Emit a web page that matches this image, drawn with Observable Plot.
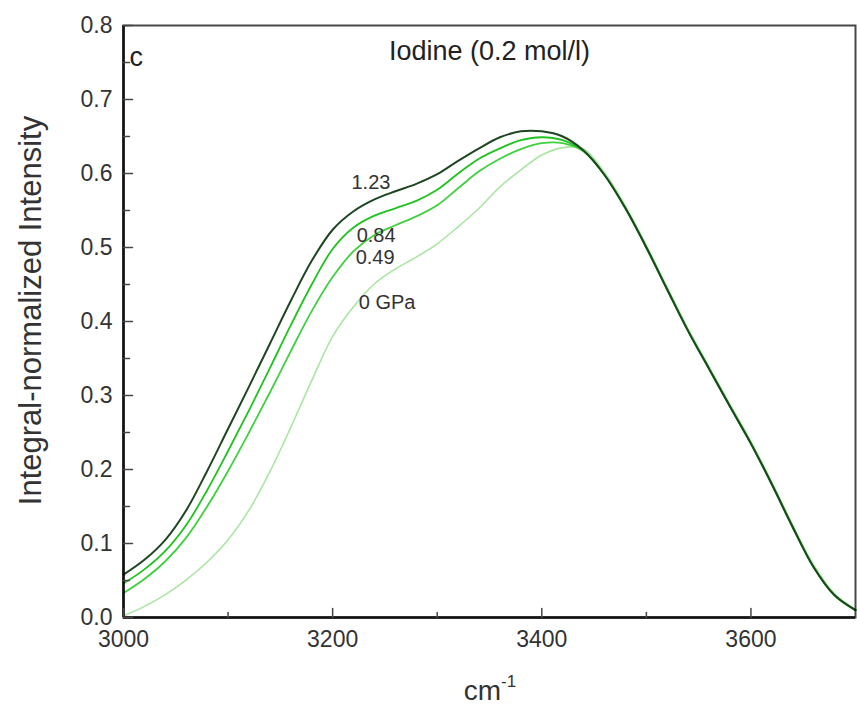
<!DOCTYPE html>
<html><head><meta charset="utf-8">
<script src="https://cdn.jsdelivr.net/npm/d3@7"></script>
<script src="https://cdn.jsdelivr.net/npm/@observablehq/plot@0.6"></script>
<style>
body{margin:0;background:#fff}
svg{font-family:"Liberation Sans",Arial,Helvetica,sans-serif}
</style>
</head><body><div id="chart"></div>
<script>
// Wavenumber grid (cm^-1)
const wavenumbers = [3000,3020,3040,3060,3080,3100,3120,3140,3160,3180,3200,3220,3240,3260,3280,3300,3320,3340,3360,3380,3400,3420,3440,3460,3480,3500,3520,3540,3560,3580,3600,3620,3640,3660,3680,3700];
// Integral-normalized intensity per pressure
const p123 = [0.058,0.078,0.105,0.145,0.198,0.255,0.312,0.370,0.428,0.482,0.524,0.549,0.565,0.576,0.586,0.599,0.617,0.634,0.649,0.657,0.657,0.650,0.631,0.598,0.553,0.500,0.443,0.387,0.336,0.285,0.235,0.180,0.122,0.068,0.030,0.010];
const p084 = [0.046,0.065,0.090,0.125,0.172,0.225,0.280,0.337,0.395,0.450,0.498,0.527,0.543,0.553,0.563,0.578,0.600,0.620,0.634,0.645,0.649,0.645,0.630,0.598,0.553,0.500,0.443,0.387,0.336,0.285,0.235,0.180,0.122,0.068,0.030,0.010];
const p049 = [0.033,0.052,0.076,0.108,0.150,0.198,0.250,0.304,0.360,0.414,0.460,0.495,0.517,0.530,0.542,0.557,0.580,0.603,0.620,0.633,0.641,0.641,0.630,0.598,0.553,0.500,0.443,0.387,0.336,0.285,0.235,0.180,0.122,0.068,0.030,0.010];
const p000 = [0.002,0.015,0.031,0.051,0.075,0.105,0.145,0.197,0.257,0.320,0.380,0.420,0.451,0.471,0.487,0.505,0.528,0.553,0.582,0.605,0.625,0.635,0.633,0.601,0.556,0.503,0.446,0.390,0.339,0.288,0.238,0.183,0.125,0.071,0.032,0.011];
const seriesNames = ["0 GPa","0.49","0.84","1.23"];
const seriesColors = ["#a9e6a2","#3fd03f","#1fc21f","#1e4622"];
const seriesWidths = [1.6,1.8,1.8,2];
// In-plot labels: text, x, y (data coordinates)
const labelTexts = ["1.23","0.84","0.49","0 GPa"];
const labelX = [3218,3223,3222,3225];
const labelY = [0.588,0.516,0.486,0.426];
// Ticks
const xMajor = [3000,3200,3400,3600];
const xMinor = [3100,3300,3500];
const yMajor = [0,0.1,0.2,0.3,0.4,0.5,0.6,0.7,0.8];
const yMinor = [0.05,0.15,0.25,0.35,0.45,0.55,0.65,0.75];

const allSeries = [p000,p049,p084,p123];
const lines = allSeries.map((vals,i)=>Plot.line(vals.map((v,j)=>({x:wavenumbers[j],y:v})),
  {x:"x",y:"y",stroke:seriesColors[i],strokeWidth:seriesWidths[i],curve:"catmull-rom"}));
const labels = labelTexts.map((t,i)=>({t,x:labelX[i],y:labelY[i]}));

const tickShape = {draw(context,l){context.moveTo(0,0);context.lineTo(0,-l);}};
const axisColor = "#474747";
const chart = Plot.plot({
  width:857, height:709,
  marginLeft:123, marginRight:2, marginTop:25, marginBottom:92,
  x:{domain:[3000,3700], axis:null},
  y:{domain:[0,0.8], axis:null},
  marks:[
    ...lines,
    Plot.text(labels,{x:"x",y:"y",text:"t",textAnchor:"start",fontSize:20,fill:"#333"}),
    Plot.frame({stroke:"black",strokeOpacity:0.72,strokeWidth:2}),
    Plot.ruleY([0],{stroke:"black",strokeOpacity:0.72,strokeWidth:3}),
    Plot.ruleX([3000],{stroke:"black",strokeOpacity:0.72,strokeWidth:3}),
    Plot.vector(xMajor,{x:d=>d,y:0,length:9,rotate:0,anchor:"start",shape:tickShape,stroke:axisColor,strokeWidth:1.5}),
    Plot.vector(xMinor,{x:d=>d,y:0,length:5,rotate:0,anchor:"start",shape:tickShape,stroke:axisColor,strokeWidth:1.5}),
    Plot.vector(yMajor,{x:3000,y:d=>d,length:9,rotate:90,anchor:"start",shape:tickShape,stroke:axisColor,strokeWidth:1.5}),
    Plot.vector(yMinor,{x:3000,y:d=>d,length:6,rotate:90,anchor:"start",shape:tickShape,stroke:axisColor,strokeWidth:1.5}),
    Plot.axisX(xMajor,{tickSize:0,tickPadding:13,fontSize:23,tickFormat:d=>String(d),color:"#333",label:null}),
    Plot.axisY(yMajor,{tickSize:0,tickPadding:11,fontSize:23,tickFormat:d3.format(".1f"),color:"#333",label:null}),
    Plot.text(["Iodine (0.2 mol/l)"],{frameAnchor:"top",lineAnchor:"bottom",dx:0,dy:34,fontSize:27,fill:"#222"}),
    Plot.text(["c"],{frameAnchor:"top-left",lineAnchor:"bottom",textAnchor:"start",dx:6,dy:40,fontSize:27,fill:"#222"}),
    Plot.text(["Integral-normalized Intensity"],{frameAnchor:"left",textAnchor:"middle",dx:-92,dy:-11,rotate:-90,fontSize:31,fill:"#333"})
  ]
});
document.getElementById("chart").appendChild(chart);
// x-axis label with superscript
const svg = d3.select(chart);
const t = svg.append("text").attr("x",490).attr("y",700).attr("text-anchor","middle")
  .attr("font-size",28).attr("fill","#333");
t.append("tspan").text("cm");
t.append("tspan").attr("dy",-13).attr("font-size",17).text("-1");
</script>
</body></html>
